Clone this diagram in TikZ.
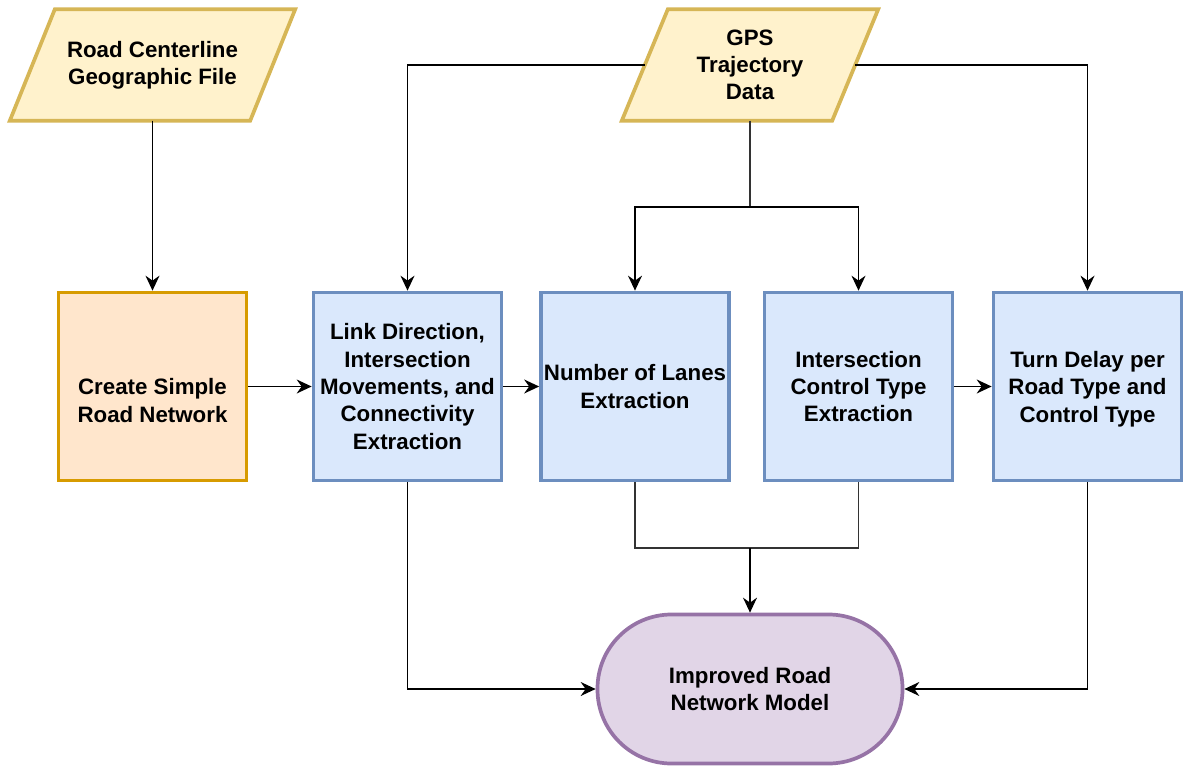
\documentclass[tikz,border=0pt]{standalone}
\usepackage{fontspec}
\setmainfont{Liberation Sans}
\usetikzlibrary{arrows.meta}

\definecolor{procfill}{HTML}{DAE8FC}
\definecolor{procline}{HTML}{6C8EBF}
\definecolor{startfill}{HTML}{FFE6CC}
\definecolor{startline}{HTML}{D79B00}
\definecolor{datafill}{HTML}{FFF2CC}
\definecolor{dataline}{HTML}{D6B656}
\definecolor{endfill}{HTML}{E1D5E7}
\definecolor{endline}{HTML}{9673A6}

\tikzset{
  label font/.style={font=\fontsize{22.3}{27.3}\selectfont\bfseries, align=center, text=black},
  procbox/.style={label font, draw=procline, fill=procfill, line width=3.7pt,
    rectangle, inner sep=0pt, minimum width=188pt, minimum height=188pt},
  startbox/.style={procbox, draw=startline, fill=startfill},
  % text holder of a data parallelogram: its width is the width at mid height
  datatext/.style={label font, rectangle, inner sep=0pt, minimum height=111pt},
  datashape/.style={draw=dataline, fill=datafill, line width=3.7pt, line join=miter},
  endbox/.style={label font, draw=endline, fill=endfill, line width=3.7pt,
    rectangle, rounded corners=74pt, inner sep=0pt,
    minimum width=305pt, minimum height=149pt},
  flow/.style={line width=1.4pt, draw=black,
    -{Stealth[length=15pt, width=14pt, inset=5pt]}},
  joint/.style={line width=1.4pt, draw=black!80}
}

% parallelogram leaning right around a text holder node: #1 = node, #2 = half offset
\newcommand{\dataframe}[2]{%
  \filldraw[datashape]
    ([xshift=#2]#1.north west) -- ([xshift=#2]#1.north east) --
    ([xshift=-#2]#1.south east) -- ([xshift=-#2]#1.south west) -- cycle;}

\begin{document}
\begin{tikzpicture}[x=1pt, y=-1pt]
  \useasboundingbox (0,0) rectangle (1185,767);

  % input data
  \node[datatext, minimum width=240pt] (road) at (152.5,65) {};
  \dataframe{road}{22.5pt}
  \node[label font] at (road) {Road Centerline\\Geographic File};

  \node[datatext, minimum width=210pt] (gps) at (750,65) {};
  \dataframe{gps}{23pt}
  \node[label font] at (gps) {GPS\\Trajectory\\Data};

  % processing steps
  \node[startbox] (create) at (152.5,386.5) {};
  \node[label font] (createtext) at (152.5,400.5) {Create Simple\\Road Network};
  \node[procbox]  (link)   at (407.5,386.5) {Link Direction,\\Intersection\\Movements, and\\Connectivity\\Extraction};
  \node[procbox]  (lanes)  at (635,386.5)   {Number of Lanes\\Extraction};
  \node[procbox]  (ctrl)   at (858.5,386.5) {Intersection\\Control Type\\Extraction};
  \node[procbox]  (turn)   at (1087.5,386.5) {};
  \node[label font] (turntext) at (1087.5,389) {Turn Delay per\\Road Type and\\Control Type};

  % result
  \node[endbox] (model) at (750,689) {Improved Road\\Network Model};

  % branch and merge points
  \coordinate (split) at (750,207);
  \coordinate (merge) at (750,548);

  % connectors
  \draw[flow] (road.south) -- (create.north);
  \draw[flow] (create) -- (link);
  \draw[flow] (link) -- (lanes);
  \draw[flow] (ctrl) -- (turn);

  \draw[flow] (gps.west) -| (link.north);
  \draw[flow] (gps.east) -| (turn.north);
  \draw[joint] (gps.south) -- (split);
  \draw[flow] (split) -| (lanes.north);
  \draw[flow] (split) -| (ctrl.north);

  \draw[joint] (lanes.south) |- (merge) -| (ctrl.south);
  \draw[flow] (merge) -- (model.north);

  \draw[flow] (link.south) |- (model.west);
  \draw[flow] (turn.south) |- (model.east);
\end{tikzpicture}
\end{document}
